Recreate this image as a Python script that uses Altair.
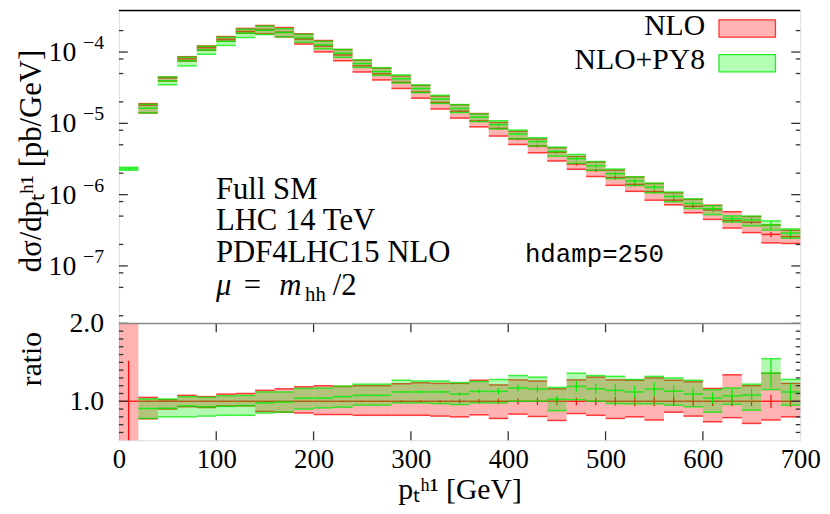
import altair as alt
import pandas as pd

# ---------------- data ----------------
bin_lo = list(range(0, 700, 20))

# NLO central value per bin [pb/GeV]; bin 0 is far below the plotted range
nlo = [1.0e-9, 1.8e-5, 4.35e-5, 8.0e-5, 1.15e-4, 1.51e-4, 1.95e-4, 2.07e-4, 1.9e-4, 1.52e-4,
       1.21e-4, 9.1e-5, 6.4e-5, 4.95e-5, 3.76e-5, 2.75e-5, 1.96e-5, 1.48e-5, 1.08e-5, 8.5e-6,
       6.05e-6, 4.8e-6, 3.93e-6, 2.69e-6, 2.19e-6, 1.73e-6, 1.39e-6, 1.10e-6, 8.36e-7, 6.87e-7,
       6.1e-7, 4.3e-7, 4.1e-7, 2.77e-7, 2.58e-7]

# NLO scale band, as ratio to NLO central
nlo_lo_r = [0.01, 0.775, 0.90, 0.93, 0.92, 0.94, 0.94, 0.87, 0.86, 0.85,
            0.83, 0.83, 0.82, 0.82, 0.82, 0.82, 0.81, 0.80, 0.826, 0.78,
            0.835, 0.805, 0.754, 0.843, 0.82, 0.78, 0.80, 0.76, 0.86, 0.81,
            0.737, 0.79, 0.716, 0.76, 0.80]
nlo_hi_r = [3.0, 1.05, 1.02, 1.076, 1.06, 1.093, 1.10, 1.14, 1.16, 1.186,
            1.20, 1.19, 1.20, 1.20, 1.225, 1.237, 1.23, 1.23, 1.27, 1.21,
            1.275, 1.26, 1.16, 1.275, 1.31, 1.275, 1.27, 1.30, 1.27, 1.25,
            1.165, 1.34, 1.20, 1.36, 1.23]
# NLO statistical error (relative)
nlo_err = [0.52, 0.006, 0.004, 0.004, 0.004, 0.004, 0.004, 0.005, 0.005, 0.006,
           0.007, 0.008, 0.009, 0.01, 0.011, 0.012, 0.014, 0.025, 0.03, 0.035,
           0.04, 0.045, 0.05, 0.05, 0.05, 0.055, 0.06, 0.06, 0.06, 0.06,
           0.06, 0.065, 0.06, 0.085, 0.07]

# NLO+PY8 central and band, as ratio to NLO central
py8_r = [2300.0, 0.907, 0.91, 0.94, 0.93, 0.935, 0.945, 0.98, 0.99, 1.04,
         1.04, 1.06, 1.076, 1.076, 1.12, 1.12, 1.12, 1.093, 1.127, 1.127,
         1.17, 1.157, 1.025, 1.19, 1.16, 1.14, 1.12, 1.157, 1.13, 1.093,
         1.04, 1.07, 1.08, 1.36, 1.12]
py8_lo_r = [2200.0, 0.78, 0.80, 0.80, 0.81, 0.82, 0.82, 0.85, 0.86, 0.90,
            0.915, 0.924, 0.95, 0.95, 0.98, 0.98, 0.97, 0.958, 0.98, 0.98,
            1.0, 1.0, 0.88, 1.02, 1.0, 0.97, 0.966, 0.966, 0.95, 0.93,
            0.86, 0.96, 0.886, 1.15, 0.95]
py8_hi_r = [2420.0, 1.03, 1.03, 1.06, 1.05, 1.07, 1.075, 1.12, 1.12, 1.165,
            1.17, 1.195, 1.22, 1.22, 1.27, 1.26, 1.26, 1.24, 1.255, 1.28,
            1.33, 1.31, 1.178, 1.36, 1.33, 1.32, 1.28, 1.32, 1.30, 1.27,
            1.15, 1.17, 1.22, 1.547, 1.28]
py8_err = [0.02, 0.005, 0.004, 0.004, 0.004, 0.004, 0.004, 0.005, 0.005, 0.006,
           0.007, 0.008, 0.009, 0.01, 0.012, 0.014, 0.016, 0.02, 0.025, 0.035,
           0.035, 0.04, 0.045, 0.06, 0.06, 0.07, 0.07, 0.075, 0.07, 0.075,
           0.07, 0.085, 0.08, 0.135, 0.1]

x_ticks = [0, 100, 200, 300, 400, 500, 600, 700]
top_major = [1e-4, 1e-5, 1e-6, 1e-7]
top_exp = ["−4", "−5", "−6", "−7"]
top_minor = [2e-4, 8e-5, 5e-5, 2e-5, 8e-6, 5e-6, 2e-6, 8e-7, 5e-7, 2e-7, 8e-8, 5e-8, 2e-8]
ratio_major = [1.0, 2.0]
ratio_labels = ["1.0", "2.0"]
ratio_minor = [0.6, 0.7, 0.8, 0.9, 1.1, 1.2, 1.3, 1.4, 1.5, 1.6, 1.7, 1.8, 1.9]
x_major_inner = [100, 200, 300, 400, 500, 600]

# ---------------- tables ----------------
df = pd.DataFrame({"x0": bin_lo, "nlo": nlo, "nlo_lo_r": nlo_lo_r, "nlo_hi_r": nlo_hi_r,
                   "nlo_err": nlo_err, "py8_r": py8_r, "py8_lo_r": py8_lo_r,
                   "py8_hi_r": py8_hi_r, "py8_err": py8_err})
df["x1"] = df["x0"] + 20
df["xc"] = df["x0"] + 10
df["one"] = 1.0
df["nlo_lo"] = df["nlo"] * df["nlo_lo_r"]
df["nlo_hi"] = df["nlo"] * df["nlo_hi_r"]
df["nlo_elo"] = df["nlo"] * (1 - df["nlo_err"])
df["nlo_ehi"] = df["nlo"] * (1 + df["nlo_err"])
df["r_nlo_elo"] = 1 - df["nlo_err"]
df["r_nlo_ehi"] = 1 + df["nlo_err"]
df["py8"] = df["nlo"] * df["py8_r"]
df["py8_lo"] = df["nlo"] * df["py8_lo_r"]
df["py8_hi"] = df["nlo"] * df["py8_hi_r"]
df["py8_elo"] = df["py8"] * (1 - df["py8_err"])
df["py8_ehi"] = df["py8"] * (1 + df["py8_err"])
df["r_py8_elo"] = df["py8_r"] * (1 - df["py8_err"])
df["r_py8_ehi"] = df["py8_r"] * (1 + df["py8_err"])

W = 688
H = 434
SPLIT = 316

SERIF = "Liberation Serif"
RED = "#ff0000"
GREEN = "#00ee00"

xscale = alt.Scale(domain=[0, 700], nice=False, zero=False)
xaxis = alt.Axis(values=x_ticks, ticks=False, domain=False, grid=False, labelFont=SERIF,
                 labelFontSize=27, labelColor="black", labelPadding=7, labelFlush=False,
                 labelOverlap=False, labelBound=False, format="d",
                 title="pₜʰ¹ [GeV]", titleFont=SERIF, titleFontSize=30, titleFontWeight="normal",
                 titleColor="black", titlePadding=2)

top_scale = alt.Scale(type="log", domain=[1.564e-8, 3.83e-4], range=[SPLIT, 0], clamp=True, nice=False)
rat_scale = alt.Scale(domain=[0.5, 2.0], range=[H, SPLIT], clamp=True, nice=False, zero=False)


def X(f):
    return alt.X(f, type="quantitative", scale=xscale, axis=xaxis)


def YT(f):
    return alt.Y(f, type="quantitative", scale=top_scale, axis=None)


def YR(f):
    return alt.Y(f, type="quantitative", scale=rat_scale, axis=None)


base = alt.Chart(df)
top_nlo = base.transform_filter("datum.nlo > 1e-8")
rat_py = base.transform_filter("datum.py8_r < 2")

edge_w = 1.5

# ---------------- top panel ----------------
top_layers = [
    top_nlo.mark_rect(color=RED, opacity=0.3).encode(x=X("x0"), x2="x1", y=YT("nlo_lo"), y2="nlo_hi"),
    top_nlo.mark_rule(color=RED, strokeWidth=edge_w, opacity=0.75).encode(x=X("x0"), x2="x1", y=YT("nlo_lo")),
    top_nlo.mark_rule(color=RED, strokeWidth=edge_w, opacity=0.75).encode(x=X("x0"), x2="x1", y=YT("nlo_hi")),
    top_nlo.mark_rule(color=RED, strokeWidth=edge_w, opacity=0.8).encode(x=X("x0"), x2="x1", y=YT("nlo")),
    top_nlo.mark_rule(color=RED, strokeWidth=1.2).encode(x=X("xc"), y=YT("nlo_elo"), y2="nlo_ehi"),
    base.mark_rect(color=GREEN, opacity=0.3).encode(x=X("x0"), x2="x1", y=YT("py8_lo"), y2="py8_hi"),
    base.mark_rule(color=GREEN, strokeWidth=edge_w, opacity=0.75).encode(x=X("x0"), x2="x1", y=YT("py8_lo")),
    base.mark_rule(color=GREEN, strokeWidth=edge_w, opacity=0.75).encode(x=X("x0"), x2="x1", y=YT("py8_hi")),
    base.mark_rule(color=GREEN, strokeWidth=edge_w, opacity=0.8).encode(x=X("x0"), x2="x1", y=YT("py8")),
    base.mark_rule(color=GREEN, strokeWidth=1.2).encode(x=X("xc"), y=YT("py8_elo"), y2="py8_ehi"),
]

tmaj = pd.DataFrame({"v": top_major, "e": top_exp})
tmin = pd.DataFrame({"v": top_minor})
tick_col = "#333333"
top_layers += [
    alt.Chart(tmaj).mark_rule(color=tick_col, strokeWidth=1.3).encode(y=YT("v"), x=alt.value(0), x2=alt.value(9)),
    alt.Chart(tmaj).mark_rule(color=tick_col, strokeWidth=1.3).encode(y=YT("v"), x=alt.value(W - 9), x2=alt.value(W)),
    alt.Chart(tmin).mark_rule(color=tick_col, strokeWidth=1.3).encode(y=YT("v"), x=alt.value(0), x2=alt.value(4.5)),
    alt.Chart(tmin).mark_rule(color=tick_col, strokeWidth=1.3).encode(y=YT("v"), x=alt.value(W - 4.5), x2=alt.value(W)),
    alt.Chart(tmaj).mark_text(text="10", font=SERIF, fontSize=28, align="right", baseline="middle", dy=1)
       .encode(y=YT("v"), x=alt.value(-43)),
    alt.Chart(tmaj).mark_text(font=SERIF, fontSize=20, align="right", baseline="middle", dy=-9)
       .encode(y=YT("v"), x=alt.value(-15), text="e:N"),
]

one = pd.DataFrame({"a": [0]})


def label(txt, x, y, size=31, font=SERIF, align="left", style="normal", angle=0, baseline="alphabetic"):
    return alt.Chart(one).mark_text(text=txt, font=font, fontSize=size, align=align, baseline=baseline,
                                    fontStyle=style, angle=angle, color="black").encode(
        x=alt.value(x), y=alt.value(y))


top_layers += [
    label("Full SM", 98, 190),
    label("LHC 14 TeV", 98, 222),
    label("PDF4LHC15 NLO", 98, 254),
    label("μ", 98, 287, style="italic"),
    label("=", 126, 287),
    label("m", 162, 287, style="italic"),
    label("hh", 188, 293, size=21),
    label("/2", 216, 287),
    label("hdamp=250", 410, 254, size=26, font="Liberation Mono"),
    # legend
    label("NLO", 592, 25, size=30, align="right"),
    label("NLO+PY8", 592, 59, size=30, align="right"),
    alt.Chart(one).mark_rect(fill="#ffb3b3", stroke="#ff3333", strokeWidth=1.3).encode(
        x=alt.value(606), x2=alt.value(663), y=alt.value(9.5), y2=alt.value(27)),
    alt.Chart(one).mark_rect(fill="#b3ffb3", stroke="#22ee22", strokeWidth=1.3).encode(
        x=alt.value(606), x2=alt.value(663), y=alt.value(44.5), y2=alt.value(62)),
    # axis titles
    label("dσ/dpₜʰ¹ [pb/GeV]", -88, 152, size=31, align="center", angle=270, baseline="middle"),
    label("ratio", -88, 352, size=30, align="center", angle=270, baseline="middle"),
    # top border line
    alt.Chart(one).mark_rule(color="black", strokeWidth=1.5).encode(
        x=alt.value(0), x2=alt.value(W), y=alt.value(0)),
]

top = alt.layer(*top_layers)

# ---------------- ratio panel ----------------
rmaj = pd.DataFrame({"v": ratio_major, "t": ratio_labels})
rmin = pd.DataFrame({"v": ratio_minor})
xin = pd.DataFrame({"v": x_major_inner})
edge_bins = base.transform_filter("datum.x0 > 0")

rat_layers = [
    base.mark_rect(color=RED, opacity=0.3).encode(x=X("x0"), x2="x1", y=YR("nlo_lo_r"), y2="nlo_hi_r"),
    edge_bins.mark_rule(color=RED, strokeWidth=edge_w, opacity=0.75).encode(x=X("x0"), x2="x1", y=YR("nlo_lo_r")),
    edge_bins.mark_rule(color=RED, strokeWidth=edge_w, opacity=0.75).encode(x=X("x0"), x2="x1", y=YR("nlo_hi_r")),
    base.mark_rule(color=RED, strokeWidth=edge_w, opacity=0.8).encode(x=X("x0"), x2="x1", y=YR("one")),
    base.mark_rule(color=RED, strokeWidth=1.2).encode(x=X("xc"), y=YR("r_nlo_elo"), y2="r_nlo_ehi"),
    rat_py.mark_rect(color=GREEN, opacity=0.3).encode(x=X("x0"), x2="x1", y=YR("py8_lo_r"), y2="py8_hi_r"),
    rat_py.mark_rule(color=GREEN, strokeWidth=edge_w, opacity=0.75).encode(x=X("x0"), x2="x1", y=YR("py8_lo_r")),
    rat_py.mark_rule(color=GREEN, strokeWidth=edge_w, opacity=0.75).encode(x=X("x0"), x2="x1", y=YR("py8_hi_r")),
    rat_py.mark_rule(color=GREEN, strokeWidth=edge_w, opacity=0.8).encode(x=X("x0"), x2="x1", y=YR("py8_r")),
    rat_py.mark_rule(color=GREEN, strokeWidth=1.2).encode(x=X("xc"), y=YR("r_py8_elo"), y2="r_py8_ehi"),
    # ticks
    alt.Chart(rmaj).mark_rule(color=tick_col, strokeWidth=1.3).encode(y=YR("v"), x=alt.value(0), x2=alt.value(9)),
    alt.Chart(rmaj).mark_rule(color=tick_col, strokeWidth=1.3).encode(y=YR("v"), x=alt.value(W - 9), x2=alt.value(W)),
    alt.Chart(rmin).mark_rule(color=tick_col, strokeWidth=1.3).encode(y=YR("v"), x=alt.value(0), x2=alt.value(4.5)),
    alt.Chart(rmin).mark_rule(color=tick_col, strokeWidth=1.3).encode(y=YR("v"), x=alt.value(W - 4.5), x2=alt.value(W)),
    alt.Chart(rmaj).mark_text(font=SERIF, fontSize=28, align="right", baseline="middle", dy=1)
       .encode(y=YR("v"), x=alt.value(-15), text="t:N"),
    alt.Chart(xin).mark_rule(color=tick_col, strokeWidth=1.3).encode(x=X("v"), y=alt.value(SPLIT), y2=alt.value(SPLIT + 9)),
    alt.Chart(xin).mark_rule(color=tick_col, strokeWidth=1.3).encode(x=X("v"), y=alt.value(H - 9), y2=alt.value(H)),
    # separator
    alt.Chart(one).mark_rule(color="#888888", strokeWidth=1.5).encode(
        x=alt.value(0), x2=alt.value(W), y=alt.value(SPLIT)),
]
ratio = alt.layer(*rat_layers)

chart = alt.layer(top, ratio).resolve_scale(y="independent").properties(
    width=W, height=H,
    autosize=alt.AutoSizeParams(type="none"),
    padding={"left": 112, "top": 0, "right": 22, "bottom": 72},
).configure_view(stroke="#888888", strokeWidth=1.5).configure(background="white")

chart.save("out.html", embed_options={"renderer": "svg", "actions": False})
